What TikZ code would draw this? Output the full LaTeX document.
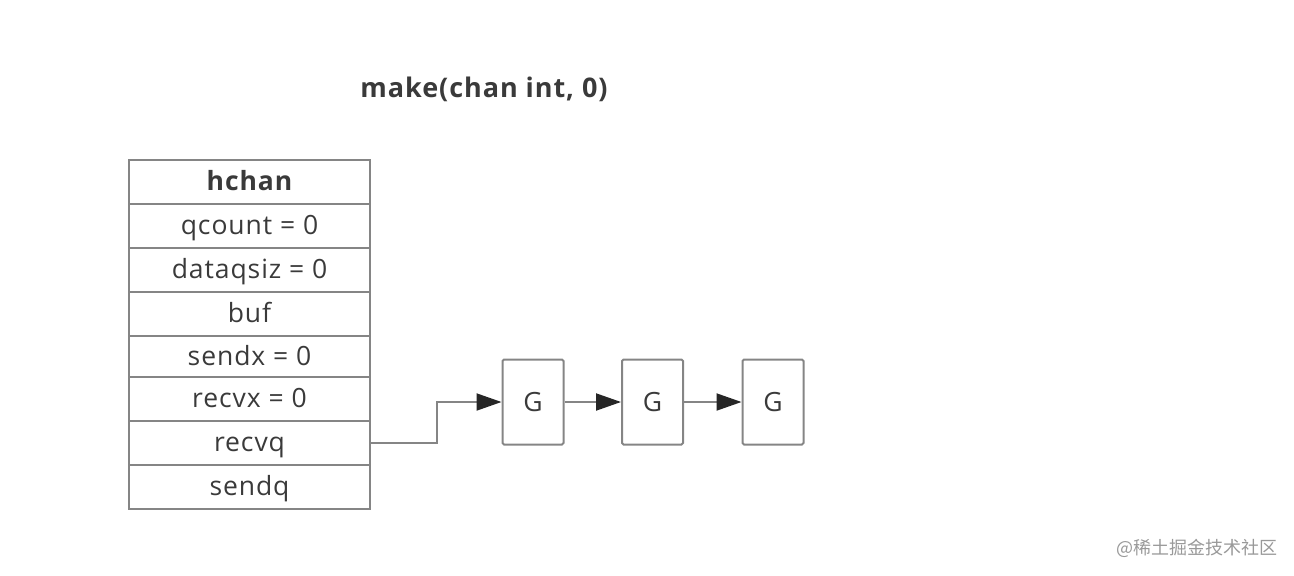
\documentclass[tikz,border=0pt]{standalone}
\usepackage{fontspec}
\setmainfont{Open Sans}[LetterSpace=3.5]
\newfontfamily\cjk{Noto Sans CJK SC}
\usetikzlibrary{arrows.meta}
\definecolor{boxline}{HTML}{858585}
\definecolor{txt}{HTML}{3A3A3A}
\tikzset{
  cell/.style={draw=boxline, line width=2pt, minimum width=241pt, inner sep=0pt, text=txt, font=\fontsize{26.5}{28}\selectfont, anchor=north west, text height=21pt, text depth=4pt},
  gbox/.style={draw=boxline, line width=2pt, minimum width=61pt, minimum height=85pt, inner sep=0pt, text=txt, rounded corners=1.5pt, font=\fontsize{26.5}{28}\selectfont},
  arr/.style={draw=boxline, line width=2pt, -{Triangle[length=25pt,width=17pt,fill=black!85,color=black!85]}},
}
\begin{document}
\begin{tikzpicture}[x=1pt,y=-1pt]
\useasboundingbox (0,0) rectangle (1294,576);
\node[font=\bfseries\fontsize{27}{29}\selectfont, text=txt] (title) at (484,89) {make(chan int, 0)};
\node[cell, minimum height=44pt] (hchan) at (128,159) {\bfseries hchan};
\node[cell, minimum height=44pt] (qcount) at (128,203) {qcount = 0};
\node[cell, minimum height=44pt] (dataqsiz) at (128,247) {dataqsiz = 0};
\node[cell, minimum height=44pt] (buf) at (128,291) {buf};
\node[cell, minimum height=41pt] (sendx) at (128,335) {sendx = 0};
\node[cell, minimum height=44pt] (recvx) at (128,376) {recvx = 0};
\node[cell, minimum height=44pt] (recvq) at (128,420) {recvq};
\node[cell, minimum height=44pt] (sendq) at (128,464) {sendq};
\node[gbox] (g1) at (533,402) {G};
\node[gbox] (g2) at (652.5,402) {G};
\node[gbox] (g3) at (773,402) {G};
\coordinate (elbow) at (437,402);
\draw[arr] (recvq.east) -| (elbow) -- (g1.west);
\draw[arr] (g1.east) -- (g2.west);
\draw[arr] (g2.east) -- (g3.west);
\node[font=\cjk\fontsize{18}{20}\selectfont, text=black!40] (wm) at (1197,548) {@稀土掘金技术社区};
\end{tikzpicture}
\end{document}
